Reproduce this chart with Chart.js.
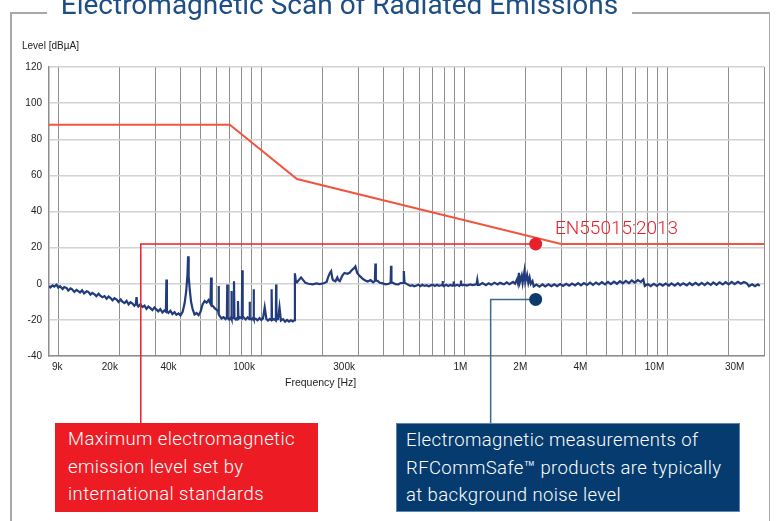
<!DOCTYPE html>
<html>
<head>
<meta charset="utf-8">
<title>Electromagnetic Scan of Radiated Emissions</title>
<script src="https://cdn.jsdelivr.net/npm/chart.js@4.4.1/dist/chart.umd.min.js"></script>
<style>
  html, body { margin: 0; padding: 0; background: #fff; }
  body { width: 779px; height: 521px; position: relative; overflow: hidden; font-family: Roboto, "Liberation Sans", sans-serif; }
  #emc { position: absolute; left: 0; top: 0; }
  .frame { position: absolute; background: #a8a8a8; }
  .title { position: absolute; left: 47px; width: 585px; top: -9px; text-align: center; font-size: 28px; line-height: 28px; font-weight: 400; color: #1d4f86; white-space: nowrap; }
  .axis-note { position: absolute; font-family: "Liberation Sans", Arial, sans-serif; font-size: 10px; line-height: 12px; color: #222; white-space: nowrap; }
  .std-label { position: absolute; left: 555px; top: 216px; font-size: 19px; line-height: 24px; font-weight: 300; color: #e8202a; }
  .callout { position: absolute; top: 423px; height: 89px; box-sizing: border-box; color: #fff; font-size: 18.5px; line-height: 27.5px; font-weight: 300; letter-spacing: 0.4px; padding-top: 3px; white-space: nowrap; }
  .callout.red { left: 55px; width: 263px; background: #ed1c24; padding-left: 13px; }
  .callout.blue { left: 396px; width: 344px; background: #053b6e; padding-left: 9px; border: 1px solid #5a86b0; }
</style>
</head>
<body>
<canvas id="emc" width="779" height="521"></canvas>

<div class="frame" style="left:10px; top:12px; width:37px; height:1.5px;"></div>
<div class="frame" style="left:632px; top:12px; width:138px; height:1.5px;"></div>
<div class="frame" style="left:10px; top:12px; width:1.5px; height:509px;"></div>
<div class="frame" style="left:768.5px; top:12px; width:1.5px; height:509px;"></div>
<div class="title">Electromagnetic Scan of Radiated Emissions</div>

<div class="axis-note" style="left:22px; top:40px;">Level [dBµA]</div>
<div class="axis-note" style="left:285px; top:376px; font-size:10.5px;">Frequency [Hz]</div>
<div class="std-label">EN55015:2013</div>

<div class="callout red">Maximum electromagnetic<br>emission level set by<br>international standards</div>
<div class="callout blue">Electromagnetic measurements of<br>RFCommSafe™ products are typically<br>at background noise level</div>

<script>
// scan trace (kHz / dBµA)
const scanKHz = [
  9.0, 9.14, 9.37, 9.55, 9.8, 10.0, 10.2, 10.5, 10.7, 11.0, 11.2, 11.5, 11.7, 12.0, 12.3, 12.5,
  12.8, 13.1, 13.4, 13.8, 14.1, 14.4, 14.7, 15.1, 15.4, 15.8, 16.1, 16.5, 16.9, 17.3, 17.7, 18.1,
  18.5, 18.9, 19.4, 19.8, 20.3, 20.7, 21.2, 21.7, 22.2, 22.7, 23.2, 23.7, 24.1, 24.3, 24.5, 24.8,
  25.4, 26.0, 26.6, 27.2, 27.8, 28.4, 29.1, 29.8, 30.4, 31.1, 31.8, 32.6, 33.3, 33.9, 34.1, 34.3,
  34.9, 35.7, 36.5, 37.4, 38.2, 39.1, 40.0,
  41.0, 41.9, 42.7, 43.3, 43.6, 43.9, 44.5, 45.1, 45.9, 46.9, 48.0, 49.1, 50.2, 51.4, 52.6, 53.8,
  55.0, 56.2, 56.6, 57.0, 58.0, 58.9, 60.3, 61.3, 61.6, 61.9, 62.6, 63.7, 65.2, 66.7, 67.7, 68.0,
  68.4, 69.5, 71.0, 71.3, 71.6, 73.1, 73.4, 73.8, 75.0, 76.5, 76.8, 77.2, 78.5, 80.2, 80.6, 81.0,
  82.4, 83.8, 85.7, 87.3, 87.6, 88.0, 89.7, 91.3, 91.7, 92.1, 93.8, 95.9, 98.1, 100, 102, 104,
  106, 108, 110, 112, 112.5, 113, 115.5, 118, 118.4, 118.8, 121, 123, 125, 128, 131, 134,
  137, 140, 143, 145.5, 146.5, 148, 150, 153, 157, 161, 165, 171, 179, 187, 194, 203,
  210, 214, 218, 221, 224, 226, 232, 237, 240, 244, 251, 257, 266, 273, 279, 286,
  291, 297, 304, 311, 318, 326, 334, 346, 356, 363, 365, 367, 374, 384, 397, 410,
  425, 434, 436, 438, 445, 458, 474, 484, 500, 504, 508, 516, 530, 542, 555, 568,
  582, 595, 609, 622, 637, 652, 668, 684, 700, 717, 734, 751, 769, 778, 782, 786,
  797, 815, 834, 854, 874, 884, 888, 892, 904, 925, 947, 960, 964, 968, 980, 1000,
  1030, 1070, 1100, 1150, 1160, 1170,
  1190, 1230, 1280, 1320, 1360, 1410, 1460, 1500, 1570, 1620, 1670, 1740, 1780, 1820, 1840, 1860,
  1880, 1920, 1940, 1980, 2000, 2040, 2070, 2100, 2130, 2170, 2200, 2270, 2350, 2430, 2510, 2600,
  2690, 2780, 2870, 2970, 3070, 3180, 3290, 3400, 3520, 3640, 3760, 3890, 4030, 4170, 4310, 4460,
  4610, 4770, 4940, 5110, 5280, 5470, 5660, 5850, 6050, 6260, 6480, 6700, 6930, 7170, 7420, 7630,
  7760, 8030, 8300, 8590, 8890, 9200, 9510, 9840, 10200, 10500, 10900, 11300, 11600, 12000, 12500, 12900,
  13300, 13800, 14300, 14800, 15300, 15800, 16400, 16900, 17500, 18100, 18800, 19400, 20100, 20800, 21500, 22300,
  23100, 23900, 24700, 25300, 26200, 27100, 28000, 28600
];
const scanDb = [
  -1.2, -2.0, -0.9, -1.6, -0.5, -2.1, -1.4, -2.9, -1.8, -2.4, -3.8, -2.6, -3.1, -4.5, -3.4, -3.9,
  -4.8, -3.6, -5.3, -4.2, -4.6, -6.0, -5.1, -5.9, -6.9, -5.5, -6.6, -7.4, -6.8, -8.3, -7.1, -7.9,
  -9.2, -8.0, -8.8, -10.1, -8.7, -9.9, -10.7, -9.5, -11.4, -10.2, -11.0, -12.2, -11.1, -7.4, -11.8, -12.6,
  -11.3, -12.9, -12.1, -13.9, -12.6, -13.5, -14.6, -13.1, -14.2, -15.3, -14.0, -15.9, -14.8, -15.4, 2.4, -15.2,
  -16.1, -15.0, -16.8, -15.7, -17.2, -16.4, -17.5,
  -15.5, -11.0, -4.0, 5.0, 15.2, 4.0, -4.0, -10.0, -14.0, -17.0, -16.2, -17.4, -15.5, -11.5, -9.5, -10.5,
  -9.0, -11.0, 3.5, -12.0, -12.5, -13.5, -14.5, -15.0, -1.3, -17.0, -18.0, -19.2, -18.5, -19.6, -18.6, -0.4,
  -19.0, -19.8, -18.5, -4.0, -19.4, -18.8, 1.4, -19.0, -19.8, -18.6, -9.6, -19.4, -18.6, -19.2, 7.5, -18.0,
  -19.0, -19.8, -18.6, -19.6, -10.0, -19.2, -19.8, -18.8, -3.1, -19.6, -19.4, -20.2, -19.0, -20.0, -19.2, -13.0,
  -19.5, -20.4, -19.6, -20.0, -3.1, -20.2, -19.6, -20.4, -0.4, -19.8, -19.6, -13.0, -20.4, -19.6, -21.0, -20.0,
  -21.0, -20.2, -20.8, -20.2, 5.8, 1.5, 0.8, 2.0, 3.5, 2.0, 0.5, 0.0, -0.3, 0.2, -0.2, 0.3,
  1.0, 4.0, 6.0, 7.0, 3.0, 2.0, 1.4, 3.5, 2.0, 1.5, 4.5, 6.0, 5.5, 6.2, 7.5, 8.5,
  9.6, 6.0, 4.5, 3.5, 2.5, 1.8, 1.2, 2.0, 0.8, 1.5, 11.2, 1.8, 1.6, 0.5, 0.2, -0.3,
  0.0, 0.5, 10.0, 0.7, 0.5, -0.2, -0.4, 0.3, 0.5, 7.0, 0.6, 0.2, -0.6, -1.2, -0.8, -1.4,
  -1.0, -0.5, -1.3, -0.6, -1.2, -0.8, -1.4, -0.9, -0.5, -1.2, -0.6, -1.1, -0.8, -0.6, 1.5, -0.9,
  -1.1, -0.6, -1.2, -0.7, -1.1, -0.5, 1.3, -0.9, -1.0, -0.6, -1.2, -0.4, 1.8, -0.6, -0.9, -0.5,
  -1.0, -0.4, -0.8, -0.3, 2.2, -0.6,
  -0.6, 0.4, -0.8, 0.3, -0.5, 0.6, -0.4, 0.5, -0.3, 0.8, -0.2, 1.0, 0.0, 2.4, 0.3, 6.0,
  0.8, 4.5, 0.5, 7.0, 1.0, 5.0, 0.5, 3.5, 0.0, 1.5, -1.5, -0.5, -1.6, -0.4, -1.5, -0.3,
  -1.4, -0.3, -1.3, -0.2, -1.2, 0.0, -1.1, 0.1, -0.9, 0.3, -0.9, 0.4, -0.7, 0.6, -0.6, 0.7,
  -0.4, 0.9, -0.3, 1.0, -0.2, 1.2, 0.0, 1.4, 0.2, 1.6, 0.4, 1.8, 0.6, 2.0, 1.0, 2.4,
  -1.2, -0.2, -1.3, -0.1, -1.2, 0.0, -1.1, 0.1, -1.0, 0.2, -1.0, 0.3, -0.9, 0.3, -0.9, 0.4,
  -0.8, 0.5, -0.8, 0.5, -0.7, 0.6, -0.6, 0.7, -0.6, 0.8, -0.4, 0.9, -0.3, 1.0, -0.2, 1.1,
  0.0, 1.0, 0.2, -1.4, -0.3, -1.4, -0.3, -1.2
];

// EN55015:2013 limit
const limitHz = [9e3, 70e3, 150e3, 3e6, 30e6];
const limitDb = [88, 88, 58, 22, 22];

// frequency axis labels, placed where the reference prints them
const freqTickAt = [9.89e3, 17.95e3, 34.9e3, 82.3e3, 256e3, 957e3, 1.89e6, 3.74e6, 8.66e6, 21.5e6];
const freqTickLabels = ['9k', '20k', '40k', '100k', '300k', '1M', '2M', '4M', '10M', '30M'];

// callout anchors (Hz / dBµA)
const markerHz = 2.25e6;
const redFootHz = 25.5e3;
const redLevel = 22;
const blueFootHz = 1.35e6;
const blueLevel = -8.7;

const decadeSteps = [1, 2, 3, 4, 5, 6, 7, 8, 9];
const gridHz = [];
[1e4, 1e5, 1e6, 1e7].forEach(d => decadeSteps.forEach(s => { if (s * d <= 30e6) gridHz.push(s * d); }));

const tickFont = { family: '"Liberation Sans", Arial, sans-serif', size: 10 };
const boxTop = 423;

const calloutLinks = {
  id: 'calloutLinks',
  afterDatasetsDraw(chart) {
    const { ctx } = chart;
    const x = chart.scales.x, y = chart.scales.y;
    const dotX = x.getPixelForValue(markerHz);
    const redY = y.getPixelForValue(redLevel);
    const redX = x.getPixelForValue(redFootHz);
    const blueY = y.getPixelForValue(blueLevel);
    const blueX = x.getPixelForValue(blueFootHz);

    ctx.save();
    ctx.lineWidth = 1.5;
    ctx.strokeStyle = '#e8202a';
    ctx.beginPath();
    ctx.moveTo(redX, boxTop);
    ctx.lineTo(redX, redY);
    ctx.lineTo(dotX, redY);
    ctx.stroke();

    ctx.strokeStyle = '#3c6894';
    ctx.beginPath();
    ctx.moveTo(blueX, boxTop);
    ctx.lineTo(blueX, blueY);
    ctx.lineTo(dotX, blueY);
    ctx.stroke();

    ctx.fillStyle = '#e8202a';
    ctx.beginPath();
    ctx.arc(dotX, redY, 6.5, 0, Math.PI * 2);
    ctx.fill();
    ctx.fillStyle = '#0b3a6b';
    ctx.beginPath();
    ctx.arc(dotX, blueY, 6.5, 0, Math.PI * 2);
    ctx.fill();
    ctx.restore();
  }
};

new Chart(document.getElementById('emc'), {
  type: 'line',
  data: {
    datasets: [
      {
        label: 'EN55015:2013',
        xAxisID: 'x',
        yAxisID: 'y',
        data: limitHz.map((f, i) => ({ x: f, y: limitDb[i] })),
        borderColor: '#f2553f',
        borderWidth: 2,
        pointRadius: 0,
        tension: 0
      },
      {
        label: 'Scan',
        xAxisID: 'x',
        yAxisID: 'y',
        data: scanKHz.map((f, i) => ({ x: f * 1e3, y: scanDb[i] })),
        borderColor: '#213b7c',
        borderWidth: 2.2,
        pointRadius: 0,
        tension: 0
      }
    ]
  },
  options: {
    responsive: false,
    animation: false,
    devicePixelRatio: 1,
    layout: { padding: { left: 0, right: 15, top: 67, bottom: 0 } },
    plugins: { legend: { display: false }, tooltip: { enabled: false } },
    scales: {
      x: {
        type: 'logarithmic',
        position: 'bottom',
        weight: 0,
        min: 9e3,
        max: 30e6,
        afterBuildTicks: s => { s.ticks = gridHz.map(v => ({ value: v })); },
        afterFit: s => { s.height = 0; },
        ticks: { display: false },
        grid: { color: '#8e8e8e', lineWidth: 1, drawTicks: false },
        border: { color: '#8e8e8e', width: 1.5 }
      },
      xl: {
        type: 'logarithmic',
        position: 'bottom',
        weight: 1,
        min: 9e3,
        max: 30e6,
        afterBuildTicks: s => { s.ticks = freqTickAt.map(v => ({ value: v })); },
        afterFit: s => { s.height = 165; },
        grid: { display: false, drawTicks: false },
        border: { display: false },
        ticks: {
          autoSkip: false,
          maxRotation: 0,
          padding: 5,
          color: '#222',
          font: tickFont,
          callback: (v, i) => freqTickLabels[i]
        }
      },
      y: {
        min: -40,
        max: 120,
        afterFit: s => { s.width = 49; },
        ticks: { stepSize: 20, padding: 7, color: '#222', font: tickFont },
        grid: { color: '#d2d2d2', lineWidth: 1.5, drawTicks: false },
        border: { color: '#8e8e8e', width: 1.5 }
      }
    }
  },
  plugins: [calloutLinks]
});
</script>
</body>
</html>
